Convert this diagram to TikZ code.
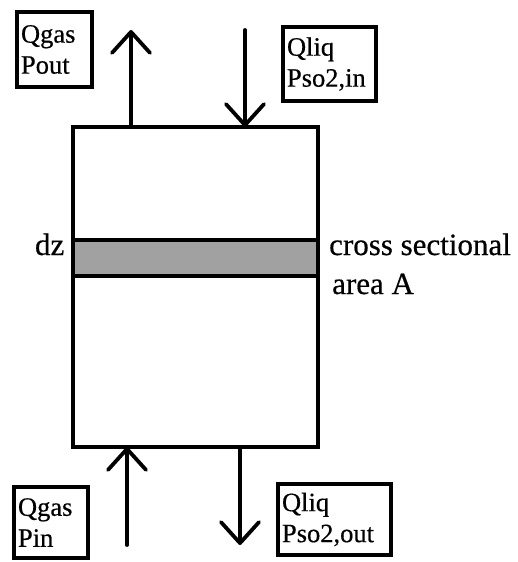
\documentclass[tikz,border=0pt]{standalone}
\usepackage{fontspec}
\setmainfont{Liberation Serif}
\newfontfamily\scanserif[FakeBold=0.5]{Liberation Serif}
\usetikzlibrary{arrows.meta}
\begin{document}
\begin{tikzpicture}[x=1pt,y=-1pt,
  tagbox/.style={draw,line width=4pt,font=\scanserif\fontsize{26.5}{31}\selectfont,align=left,inner xsep=4pt,inner ysep=0pt,anchor=center},
  flow/.style={line width=3.8pt,line cap=round,-{Straight Barb[length=21pt,width=38pt,round]}},
  sidetext/.style={font=\scanserif\fontsize{31}{38}\selectfont,inner sep=0pt}]
\useasboundingbox (0,0) rectangle (517,562);
% column
\node[draw,line width=3.8pt,minimum width=245pt,minimum height=320pt,inner sep=0pt,outer sep=0pt] (col) at (195.5,287) {};
% slice dz
\node[draw,fill=black!37,line width=3.8pt,minimum width=245pt,minimum height=36pt,inner sep=0pt,outer sep=0pt] (band) at (195.5,258) {};
% labelled boxes
\node[tagbox,text width=67pt,minimum height=75pt] (gasout) at (54.5,49.5) {Qgas\\Pout};
\node[tagbox,text width=85pt,minimum height=74pt] (liqin) at (329.5,64) {Qliq\\Pso2,in};
\node[tagbox,text width=66pt,minimum height=71pt] (gasin) at (51,522.5) {Qgas\\Pin};
\node[tagbox,text width=105pt,minimum height=71pt] (liqout) at (334.5,519.5) {Qliq\\Pso2,out};
% side texts
\node[sidetext,anchor=base east] (dz) at (64.5,255) {dz};
\node[sidetext,anchor=base west] (cs) at (329,255) {cross sectional};
\node[sidetext,anchor=base west] (area) at (332,294) {area A};
% flows
\coordinate (outTip) at (131,30);
\draw[flow] (col.north -| outTip) -- (outTip);
\coordinate (inStart) at (245,30);
\draw[flow] (inStart) -- (inStart |- col.north);
\coordinate (gasInStart) at (127,545);
\draw[flow] (gasInStart) -- (gasInStart |- col.south);
\coordinate (liqOutTip) at (240,545);
\draw[flow] (col.south -| liqOutTip) -- (liqOutTip);
\end{tikzpicture}
\end{document}
